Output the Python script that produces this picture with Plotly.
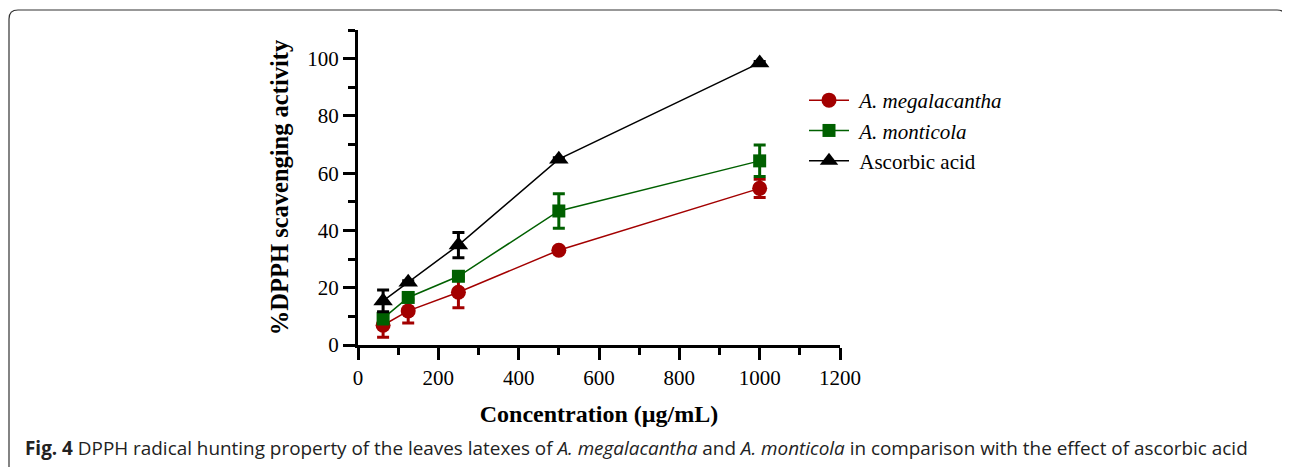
import plotly.graph_objects as go

conc = [62.5, 125, 250, 500, 1000]
mega = [6.9, 11.9, 18.4, 33.1, 54.7]
mega_err = [4.2, 4.2, 5.4, 0.5, 3.2]
mont = [9.3, 16.6, 24.0, 46.8, 64.3]
mont_err = [2.0, 1.0, 1.0, 6.0, 5.5]
asc = [15.4, 21.9, 34.9, 64.9, 98.5]
asc_err = [3.8, 0.5, 4.4, 0.5, 0.5]

# page has an 8px body margin; work in page pixels and subtract the offset
OFF = 8
W, H = 1290 - OFF, 467 - OFF
L, R, T, B = 358 - OFF, 840 - OFF, 30 - OFF, 345 - OFF

def px(x):
    return (x - OFF - L) / (R - L)

def py(y):
    return (B - (y - OFF)) / (B - T)

serif = "Liberation Serif, Times New Roman, serif"

fig = go.Figure()
series = [
    ("\u00a0<i>A. megalacantha</i>", mega, mega_err, "#a30000", "circle", 15),
    ("\u00a0<i>A. monticola</i>", mont, mont_err, "#006000", "square", 13),
    ("\u00a0Ascorbic acid", asc, asc_err, "#000000", "triangle-up", 17),
]
for name, ys, errs, col, sym, sz in series:
    fig.add_trace(go.Scatter(
        x=conc, y=ys, name=name, mode="lines+markers",
        line=dict(color=col, width=1.5),
        marker=dict(symbol=sym, size=sz, color=col),
        error_y=dict(type="data", array=errs, visible=True, color=col, thickness=3, width=6),
    ))

fig.update_layout(
    width=W, height=H,
    margin=dict(l=L, r=W - R, t=T, b=H - B),
    paper_bgcolor="white", plot_bgcolor="white",
    font=dict(family=serif, size=21, color="black"),
    showlegend=True,
    legend=dict(x=px(804), y=py(80), xanchor="left", yanchor="top",
                font=dict(family=serif, size=21, color="black"),
                bgcolor="rgba(0,0,0,0)", tracegroupgap=7, itemwidth=40),
    xaxis=dict(range=[0, 1200], tickvals=[0, 200, 400, 600, 800, 1000, 1200],
               showline=True, linecolor="black", linewidth=3, showgrid=False, zeroline=False,
               ticks="outside", ticklen=12, tickwidth=3, tickcolor="black",
               minor=dict(dtick=100, ticks="outside", ticklen=7, tickwidth=3, tickcolor="black", showgrid=False),
               tickfont=dict(family=serif, size=21),
               title=dict(text="<b>Concentration (µg/mL)</b>", font=dict(family=serif, size=24), standoff=16)),
    yaxis=dict(range=[0, 110], tickvals=[0, 20, 40, 60, 80, 100],
               showline=True, linecolor="black", linewidth=3, showgrid=False, zeroline=False,
               ticks="outside", ticklen=12, tickwidth=3, tickcolor="black",
               minor=dict(dtick=10, ticks="outside", ticklen=7, tickwidth=3, tickcolor="black", showgrid=False),
               tickfont=dict(family=serif, size=21),
               title=dict(text="<b>%DPPH scavenging activity</b>", font=dict(family=serif, size=24.5), standoff=12)),
)

# caption
fig.add_annotation(
    xref="paper", yref="paper", x=px(23), y=py(448), xanchor="left", yanchor="middle",
    text="<b>Fig. 4</b> DPPH radical hunting property of the leaves latexes of <i>A. megalacantha</i> and <i>A. monticola</i> in comparison with the effect of ascorbic acid",
    showarrow=False, font=dict(family="Open Sans, sans-serif", size=18.9, color="#222222"),
)

# rounded frame
x0, y0, x1, y1, r = px(9), py(10), px(1286), py(490), 9
rx = r / (R - L)
ry = r / (B - T)
path = (f"M {x0+rx},{y0} L {x1-rx},{y0} Q {x1},{y0} {x1},{y0-ry} "
        f"L {x1},{y1} L {x0},{y1} L {x0},{y0-ry} Q {x0},{y0} {x0+rx},{y0} Z")
fig.add_shape(type="path", xref="paper", yref="paper", path=path,
              line=dict(color="#333333", width=1.2), fillcolor="rgba(0,0,0,0)", layer="below")

fig.write_html("out.html")
